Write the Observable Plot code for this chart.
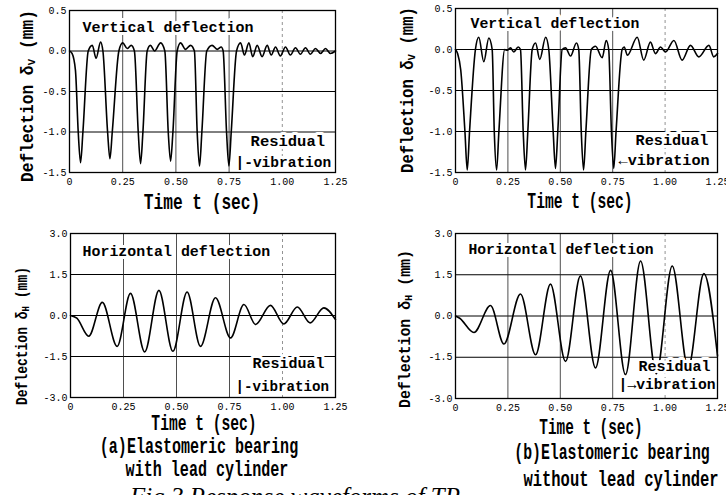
<!DOCTYPE html>
<html><head><meta charset="utf-8">
<script src="https://cdn.jsdelivr.net/npm/d3@7"></script>
<script src="https://cdn.jsdelivr.net/npm/@observablehq/plot@0.6"></script>
<style>
html,body{margin:0;padding:0;background:#fff;width:726px;height:495px;overflow:hidden;}
#root{position:relative;width:726px;height:495px;overflow:hidden;background:#fff;}
.lab{position:absolute;white-space:nowrap;font-family:"Liberation Mono",monospace;font-weight:bold;color:#000;line-height:1;}
.lab sub{font-size:0.7em;vertical-align:-0.2em;line-height:0;}
</style></head><body><div id="root"></div>
<script>
// ---- tick values and labels ----
const xTicks = [0, 0.25, 0.5, 0.75, 1.0, 1.25];
const xTickLabels = ["0", "0.25", "0.50", "0.75", "1.00", "1.25"];
const vTicks = [0.5, 0, -0.5, -1.0, -1.5];
const vTickLabels = ["0.5", "0.0", "-0.5", "-1.0", "-1.5"];
const hTicks = [3, 1.5, 0, -1.5, -3];
const hTickLabels = ["3.0", "1.5", "0.0", "-1.5", "-3.0"];
const solidGridX = [0.25, 0.5, 0.75];
const dashedGridX = [1.0];

// ---- (a) with lead cylinder, vertical deflection (mm) ----
const aVertT = [0, 0.012, 0.028, 0.041, 0.052, 0.063, 0.088, 0.107, 0.125, 0.146, 0.157, 0.179, 0.19, 0.201, 0.232, 0.25, 0.271, 0.29, 0.305, 0.323, 0.334, 0.345, 0.365, 0.38, 0.40, 0.428, 0.448, 0.464, 0.475, 0.486, 0.506, 0.522, 0.545, 0.569, 0.587, 0.60, 0.611, 0.622, 0.645, 0.67, 0.694, 0.713, 0.722, 0.738, 0.749, 0.76, 0.785, 0.804, 0.822, 0.843, 0.861, 0.882, 0.905, 0.929, 0.948, 0.968, 0.991, 1.015, 1.038, 1.062, 1.085, 1.109, 1.132, 1.156, 1.18, 1.203, 1.226, 1.25];
const aVertV = [0, -0.03, -0.24, -1.0, -1.38, -1.0, 0, 0.07, -0.09, 0.11, 0, -1.0, -1.33, -1.0, 0, 0.1, 0.03, 0.07, 0, -1.0, -1.39, -1.0, 0, 0.07, 0.0, 0.1, 0, -1.0, -1.36, -1.0, 0, 0.1, 0.02, 0.07, 0, -1.0, -1.42, -1.0, 0, 0.07, 0.02, 0.05, 0, -1.0, -1.42, -1.0, 0, 0.1, -0.05, 0.1, -0.07, 0.07, -0.07, 0.07, -0.05, 0.05, -0.06, 0.05, -0.05, 0.04, -0.04, 0.04, -0.04, 0.03, -0.03, 0.03, -0.03, 0.0];

// ---- (b) without lead cylinder, vertical deflection (mm) ----
const bVertT = [0, 0.01, 0.025, 0.045, 0.056, 0.067, 0.095, 0.111, 0.135, 0.159, 0.175, 0.185, 0.196, 0.207, 0.235, 0.247, 0.262, 0.278, 0.299, 0.31, 0.323, 0.334, 0.345, 0.366, 0.382, 0.402, 0.43, 0.445, 0.466, 0.477, 0.488, 0.509, 0.525, 0.549, 0.577, 0.588, 0.60, 0.611, 0.622, 0.648, 0.668, 0.70, 0.719, 0.731, 0.744, 0.755, 0.766, 0.795, 0.805, 0.82, 0.867, 0.898, 0.93, 0.954, 0.978, 1.002, 1.042, 1.081, 1.121, 1.161, 1.209, 1.232, 1.25];
const bVertV = [0, -0.05, -0.25, -1.0, -1.47, -1.0, 0, 0.15, -0.15, 0.14, 0, -1.0, -1.47, -1.0, 0, -0.01, 0.02, -0.03, 0.03, 0, -1.0, -1.47, -1.0, 0, 0.08, -0.12, 0.15, 0, -1.0, -1.45, -1.0, 0, 0.02, -0.08, 0.08, 0, -1.0, -1.47, -1.0, 0, 0.04, -0.1, 0.11, 0, -1.0, -1.45, -1.0, 0, 0.03, -0.07, 0.15, -0.13, 0.09, -0.05, 0.03, -0.03, 0.11, -0.13, 0.05, -0.09, 0.05, -0.09, -0.05];

// ---- (a) horizontal deflection (mm) ----
const aHorT = [0, 0.03, 0.086, 0.15, 0.22, 0.283, 0.35, 0.417, 0.483, 0.55, 0.613, 0.684, 0.755, 0.818, 0.873, 0.943, 1.006, 1.07, 1.13, 1.195, 1.25];
const aHorV = [0, -0.1, -0.76, 0.48, -1.13, 0.81, -1.33, 0.92, -1.31, 0.86, -1.13, 0.65, -0.82, 0.40, -0.33, 0.37, -0.31, 0.31, -0.27, 0.28, -0.15];

// ---- (b) horizontal deflection (mm) ----
const bHorT = [0, 0.02, 0.088, 0.167, 0.231, 0.31, 0.382, 0.453, 0.525, 0.596, 0.668, 0.74, 0.811, 0.883, 0.958, 1.034, 1.11, 1.185, 1.25];
const bHorV = [0, -0.08, -0.6, 0.38, -1.02, 0.80, -1.41, 1.16, -1.65, 1.46, -1.89, 1.66, -2.13, 2.0, -2.1, 1.82, -1.9, 1.54, -1.45];

// ---- in-plot annotation texts ----
const vertTitle = "Vertical deflection";
const horTitle = "Horizontal deflection";
const resLine1 = "Residual";
const resLineTL = "|-vibration";
const resLineTR = "←vibration";
const resLineBL = "|-vibration";
const resLineBR = "|→vibration";

const root = document.getElementById("root");
const xLab = new Map(xTicks.map((d, i) => [d, xTickLabels[i]]));

function drawPanel(p) {
  const data = p.t.map((t, i) => ({t, v: p.v[i]}));
  const labMap = new Map(p.ticks.map((d, i) => [d, p.tickLabels[i]]));
  const grid = p.ticks.filter(d => d !== p.ticks[0] && d !== p.ticks[p.ticks.length - 1]);
  const svg = Plot.plot({
    width: p.w, height: p.h,
    marginLeft: 36, marginRight: 6, marginTop: 8, marginBottom: p.h - 8 - p.ih,
    style: {fontFamily: "Liberation Mono, monospace", fontSize: "10px", background: "transparent", color: "#000", overflow: "visible"},
    x: {domain: [0, 1.25], ticks: xTicks, tickFormat: d => xLab.get(d), tickSize: 0, tickPadding: 5, label: null},
    y: {domain: [p.ticks[p.ticks.length - 1], p.ticks[0]], ticks: p.ticks, tickFormat: d => labMap.get(d), tickSize: 0, tickPadding: 3, label: null},
    marks: [
      Plot.ruleY(grid, {stroke: "#000", strokeWidth: 1}),
      Plot.ruleX(solidGridX, {stroke: "#222", strokeWidth: 0.8}),
      Plot.ruleX(dashedGridX, {stroke: "#777", strokeWidth: 0.8, strokeDasharray: "3,3"}),
      Plot.line(data, {x: "t", y: "v", curve: "monotone-x", stroke: "#000", strokeWidth: 1.6}),
      Plot.text(p.texts, {x: "t", y: "v", text: "s", textAnchor: "start", fontFamily: "Liberation Mono", fontWeight: "bold",
        fontSize: "fs", fill: "black", stroke: "white", strokeWidth: 6, paintOrder: "stroke"}),
      Plot.frame({stroke: "#000", strokeWidth: 1.3})
    ]
  });
  svg.querySelectorAll("text").forEach(el => {
    if (p.texts.some(d => d.s === el.textContent)) el.setAttribute("paint-order", "stroke");
  });
  svg.style.position = "absolute";
  svg.style.left = p.left + "px";
  svg.style.top = p.top + "px";
  root.appendChild(svg);
}

drawPanel({t: aVertT, v: aVertV, ticks: vTicks, tickLabels: vTickLabels, left: 33, top: 2, w: 308, h: 192, ih: 162,
  texts: [{t: 0.061, v: 0.30, s: vertTitle, fs: 15}, {t: 0.851, v: -1.11, s: resLine1, fs: 15.5}, {t: 0.78, v: -1.38, s: resLineTL, fs: 14.5}]});
drawPanel({t: bVertT, v: bVertV, ticks: vTicks, tickLabels: vTickLabels, left: 419, top: 0, w: 304, h: 194, ih: 164,
  texts: [{t: 0.072, v: 0.32, s: vertTitle, fs: 14.8}, {t: 0.859, v: -1.11, s: resLine1, fs: 15.2}, {t: 0.778, v: -1.35, s: resLineTR, fs: 15.2}]});
drawPanel({t: aHorT, v: aHorV, ticks: hTicks, tickLabels: hTickLabels, left: 34, top: 225, w: 307, h: 194, ih: 164,
  texts: [{t: 0.057, v: 2.35, s: horTitle, fs: 14.9}, {t: 0.858, v: -1.76, s: resLine1, fs: 15}, {t: 0.778, v: -2.58, s: resLineBL, fs: 14.2}]});
drawPanel({t: bHorT, v: bHorV, ticks: hTicks, tickLabels: hTickLabels, left: 419, top: 225, w: 304, h: 195, ih: 165,
  texts: [{t: 0.062, v: 2.43, s: horTitle, fs: 14.7}, {t: 0.873, v: -1.82, s: resLine1, fs: 15}, {t: 0.778, v: -2.5, s: resLineBR, fs: 14.7}]});

// ---- labels outside the plots ----
function addLabel(html, cx, cy, size, len, rot, italic) {
  const d = document.createElement("div");
  d.className = "lab";
  d.innerHTML = html;
  d.style.fontSize = size + "px";
  if (italic) { d.style.fontFamily = '"Liberation Serif", serif'; d.style.fontStyle = "italic"; d.style.fontWeight = "normal"; }
  root.appendChild(d);
  const s = len / d.offsetWidth;
  d.style.left = cx + "px";
  d.style.top = cy + "px";
  d.style.transform = `translate(-50%,-50%) rotate(${rot}deg) scaleX(${s})`;
}
addLabel("Deflection δ<sub>v</sub> (mm)", 28, 96, 19, 172, -90);
addLabel("Deflection δ<sub>v</sub> (mm)", 408, 90, 19, 166, -90);
addLabel("Deflection δ<sub>H</sub> (mm)", 23, 336, 16, 138, -90);
addLabel("Deflection δ<sub>H</sub> (mm)", 406, 329, 16, 158, -90);
addLabel("Time t (sec)", 202, 204, 22, 116, 0);
addLabel("Time t (sec)", 580, 203, 22, 105, 0);
addLabel("Time t (sec)", 204, 425, 22, 105, 0);
addLabel("Time t (sec)", 591, 429, 22, 103, 0);
addLabel("(a)Elastomeric bearing", 199, 448, 22, 198, 0);
addLabel("with lead cylinder", 207, 471, 22, 163, 0);
addLabel("(b)Elastomeric bearing", 612, 454, 22, 195, 0);
addLabel("without lead cylinder", 621, 481, 22, 195, 0);
addLabel("Fig.3 Response waveforms of TP", 295, 497, 26, 330, 0, true);
</script></body></html>
